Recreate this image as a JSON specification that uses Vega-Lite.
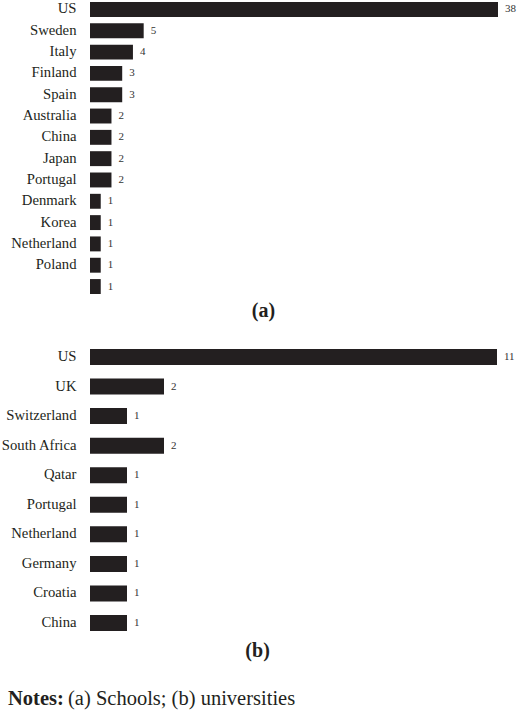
{
  "$schema": "https://vega.github.io/schema/vega-lite/v6.json",
  "padding": {"left": 0, "top": 0, "right": 2, "bottom": 0},
  "background": "white",
  "config": {
    "font": "Liberation Serif",
    "view": {"stroke": null},
    "axis": {"domain": false, "ticks": false, "grid": false, "labelFont": "Liberation Serif"},
    "text": {"font": "Liberation Serif"},
    "title": {"font": "Liberation Serif", "color": "#231f20"}
  },
  "spacing": 27,
  "resolve": {"scale": {"x": "independent", "y": "independent"}},
  "vconcat": [
    {
      "width": 408,
      "height": 292,
      "data": {"values": [
        {"country": "US", "count": 38},
        {"country": "Sweden", "count": 5},
        {"country": "Italy", "count": 4},
        {"country": "Finland", "count": 3},
        {"country": "Spain", "count": 3},
        {"country": "Australia", "count": 2},
        {"country": "China", "count": 2},
        {"country": "Japan", "count": 2},
        {"country": "Portugal", "count": 2},
        {"country": "Denmark", "count": 1},
        {"country": "Korea", "count": 1},
        {"country": "Netherland", "count": 1},
        {"country": "Poland", "count": 1},
        {"country": "", "count": 1}
      ]},
      "title": {"text": "(a)", "orient": "bottom", "anchor": "middle", "frame": "bounds", "fontSize": 20, "fontWeight": "bold", "offset": 7},
      "encoding": {
        "y": {"field": "country", "type": "nominal", "sort": null,
              "axis": {"title": null, "labelFontSize": 14.7, "labelPadding": 14, "labelColor": "#231f20"},
              "scale": {"paddingInner": 0.3, "paddingOuter": 0}},
        "x": {"field": "count", "type": "quantitative", "axis": null,
              "scale": {"domain": [0, 38], "nice": false}}
      },
      "layer": [
        {"mark": {"type": "bar", "color": "#231f20"}},
        {"mark": {"type": "text", "align": "left", "dx": 7, "fontSize": 11, "color": "#333333", "font": "Liberation Serif"},
         "encoding": {"text": {"field": "count", "type": "quantitative"}}}
      ]
    },
    {
      "width": 407,
      "height": 282,
      "data": {"values": [
        {"country": "US", "count": 11},
        {"country": "UK", "count": 2},
        {"country": "Switzerland", "count": 1},
        {"country": "South Africa", "count": 2},
        {"country": "Qatar", "count": 1},
        {"country": "Portugal", "count": 1},
        {"country": "Netherland", "count": 1},
        {"country": "Germany", "count": 1},
        {"country": "Croatia", "count": 1},
        {"country": "China", "count": 1}
      ]},
      "title": {"text": "(b)", "orient": "bottom", "anchor": "middle", "frame": "bounds", "fontSize": 20, "fontWeight": "bold", "offset": 10},
      "encoding": {
        "y": {"field": "country", "type": "nominal", "sort": null,
              "axis": {"title": null, "labelFontSize": 14.7, "labelPadding": 14, "labelColor": "#231f20"},
              "scale": {"paddingInner": 0.46, "paddingOuter": 0}},
        "x": {"field": "count", "type": "quantitative", "axis": null,
              "scale": {"domain": [0, 11], "nice": false}}
      },
      "layer": [
        {"mark": {"type": "bar", "color": "#231f20"}},
        {"mark": {"type": "text", "align": "left", "dx": 7, "fontSize": 11, "color": "#333333", "font": "Liberation Serif"},
         "encoding": {"text": {"field": "count", "type": "quantitative"}}}
      ]
    },
    {
      "spacing": 5,
      "bounds": "flush",
      "hconcat": [
        {
          "width": 1, "height": 1,
          "data": {"values": []},
          "mark": "text",
          "encoding": {},
          "title": {"text": "Notes:", "anchor": "start", "fontSize": 20.5, "fontWeight": "bold", "offset": 0, "dx": -82, "dy": -10}
        },
        {
          "width": 1, "height": 1,
          "data": {"values": []},
          "mark": "text",
          "encoding": {},
          "title": {"text": "(a) Schools; (b) universities", "anchor": "start", "fontSize": 20.5, "fontWeight": "normal", "offset": 0, "dx": -28, "dy": -10}
        }
      ]
    }
  ]
}
